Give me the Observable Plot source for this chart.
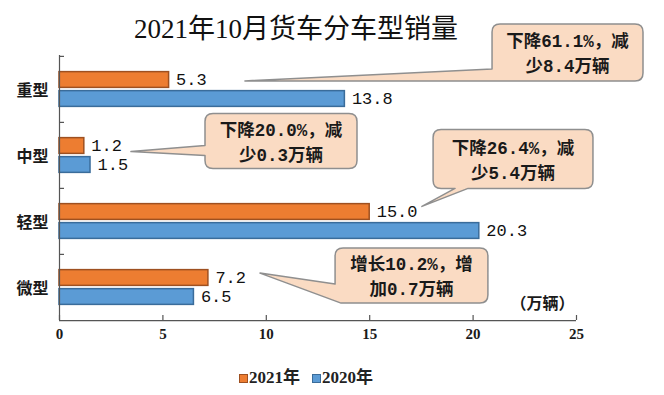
<!DOCTYPE html>
<html><head><meta charset="utf-8">
<script src="https://cdn.jsdelivr.net/npm/d3@7"></script>
<script src="https://cdn.jsdelivr.net/npm/@observablehq/plot@0.6"></script>
<style>
body{margin:0;background:#fff;}
#wrap{position:relative;width:664px;height:395px;overflow:hidden;background:#fff;font-family:"Noto Sans CJK SC",sans-serif;}
#chart{position:absolute;left:0;top:0;}
#title{position:absolute;left:0;width:592px;top:12px;text-align:center;font-family:"Liberation Serif","Noto Sans CJK SC",serif;font-size:27px;line-height:34px;color:#111;}
#legend{position:absolute;left:239px;top:367px;display:flex;align-items:center;font-family:"Liberation Serif","Noto Sans CJK SC",serif;font-size:17px;font-weight:700;color:#222;line-height:22px;}
#legend .item{display:flex;align-items:center;margin-right:12px;}
#legend .sw{width:7px;height:7px;margin-right:1px;}
</style></head>
<body><div id="wrap"><div id="chart"></div><div id="title"></div><div id="legend"></div></div>
<script>
const titleText = "2021年10月货车分车型销量";
const categories = ["重型", "中型", "轻型", "微型"];
const years = ["2021年", "2020年"];
const values2021 = [5.3, 1.2, 15.0, 7.2];
const values2020 = [13.8, 1.5, 20.3, 6.5];
const xTicks = [0, 5, 10, 15, 20, 25];
const unitLabel = "（万辆）";
const calloutTexts = [
  ["下降61.1%，减", "少8.4万辆"],
  ["下降20.0%，减", "少0.3万辆"],
  ["下降26.4%，减", "少5.4万辆"],
  ["增长10.2%，增", "加0.7万辆"]
];

const rows = categories.flatMap((c, i) => [
  {cat: c, year: years[0], value: values2021[i]},
  {cat: c, year: years[1], value: values2020[i]}
]);

// layout (annotation geometry kept out of the data arrays)
const W = 664, H = 360, ML = 59, MR = 88, MT = 55, MB = 40;
const bandH = (H - MT - MB) / categories.length;
const barH = 16, gap = 3, half = bandH / 2;
const colors = ["#ED7D31", "#5B9BD5"];
const borders = ["#9E5020", "#3A6C9A"];

const calloutSpecs = [
  {cat: "重型", box: [20.94, 28.24], top: -65.1, bottom: -8.1, tip: [8.99, -8.1], side: "corner", base: [21.23, -20.1]},
  {cat: "中型", box: [7.06, 14.41], top: -41.4, bottom: 13.6, tip: [3.48, -3.4], side: "left", base: [-9.4, 0.6]},
  {cat: "轻型", box: [18.09, 25.82], top: -91.6, bottom: -32.6, tip: [17.55, -14.6], side: "bottom", base: [19.15, 19.78]},
  {cat: "微型", box: [13.35, 20.74], top: -38.9, bottom: 16.1, tip: [9.72, -13.9], side: "corner", base: [13.64, -2.9]}
];

const calloutMark = (index, scales) => {
  const x = scales.x, y = scales.y;
  const bw = y.bandwidth();
  const g = d3.create("svg:g");
  calloutSpecs.forEach((s, i) => {
    const cy = y(s.cat) + bw / 2;
    const x1 = x(s.box[0]), x2 = x(s.box[1]), y1 = cy + s.top, y2 = cy + s.bottom;
    const tx = x(s.tip[0]), ty = cy + s.tip[1];
    const r = 8;
    let p = `M${x1 + r},${y1}H${x2 - r}Q${x2},${y1} ${x2},${y1 + r}V${y2 - r}Q${x2},${y2} ${x2 - r},${y2}`;
    if (s.side === "bottom") p += `H${x(s.base[1])}L${tx},${ty}L${x(s.base[0])},${y2}`;
    if (s.side === "corner") {
      p += `H${x(s.base[0])}L${tx},${ty}L${x1},${cy + s.base[1]}`;
    } else {
      p += `H${x1 + r}Q${x1},${y2} ${x1},${y2 - r}`;
      if (s.side === "left") p += `V${cy + s.base[1]}L${tx},${ty}L${x1},${cy + s.base[0]}`;
    }
    p += `V${y1 + r}Q${x1},${y1} ${x1 + r},${y1}Z`;
    g.append("path").attr("d", p).attr("fill", "#FADBC3").attr("stroke", "#8f8f8f").attr("stroke-width", 1.5)
      .attr("stroke-linejoin", "round");
    const mx = (x1 + x2) / 2, my = (y1 + y2) / 2 + 1;
    calloutTexts[i].forEach((t, j) => {
      g.append("text").attr("x", mx).attr("y", my + (j - 0.5) * 25).attr("dy", "0.36em")
        .attr("text-anchor", "middle").attr("font-size", 17.5).attr("font-weight", 700)
        .attr("fill", "#1a1a1a").attr("font-family", '"Liberation Mono", "Noto Sans CJK SC", monospace').text(t);
    });
  });
  return g.node();
};

const labelFont = {fontFamily: '"Liberation Mono", monospace', fontSize: 17, fill: "#111"};
const serifBold = {fontFamily: '"Liberation Serif", serif', fontWeight: 700, fill: "#1a1a1a"};

const chart = Plot.plot({
  width: W, height: H,
  marginLeft: ML, marginRight: MR, marginTop: MT, marginBottom: MB,
  style: {fontFamily: '"Noto Sans CJK SC", sans-serif', background: "transparent"},
  x: {domain: [0, 25], axis: null},
  y: {domain: categories, padding: 0, axis: null},
  color: {domain: years, range: colors},
  marks: [
    // bars
    Plot.barX(rows.filter(d => d.year === years[0]), {x: "value", y: "cat", fill: "year", stroke: borders[0], strokeWidth: 1.5,
      insetTop: half - gap / 2 - barH, insetBottom: half + gap / 2}),
    Plot.barX(rows.filter(d => d.year === years[1]), {x: "value", y: "cat", fill: "year", stroke: borders[1], strokeWidth: 1.5,
      insetTop: half + gap / 2, insetBottom: half - gap / 2 - barH}),
    // value labels
    Plot.text(rows.filter(d => d.year === years[0]), {x: "value", y: "cat", text: d => d.value.toFixed(1), dx: 7, dy: -(gap / 2 + barH / 2), textAnchor: "start", ...labelFont}),
    Plot.text(rows.filter(d => d.year === years[1]), {x: "value", y: "cat", text: d => d.value.toFixed(1), dx: 7, dy: gap / 2 + barH / 2, textAnchor: "start", ...labelFont}),
    // y axis line and band boundary ticks
    Plot.ruleX([0], {stroke: "#555", strokeWidth: 1.2}),
    Plot.ruleY(categories, {y: d => d, dy: -half, x1: 0, x2: 0, insetRight: -5, stroke: "#555", strokeWidth: 1.2}),
    // x axis line
    Plot.ruleY(categories.slice(-1), {y: d => d, dy: half, x1: 0, x2: 25, stroke: "#555", strokeWidth: 1.2}),
    // x ticks (inward) and labels
    Plot.ruleX(xTicks, {x: d => d, insetTop: H - MT - MB - 5, stroke: "#555", strokeWidth: 1.2}),
    Plot.text(xTicks, {x: d => d, frameAnchor: "bottom", dy: 18, text: d => String(d), fontSize: 15, ...serifBold}),
    // category labels
    Plot.text(categories, {y: d => d, frameAnchor: "left", dx: -11, dy: 1, textAnchor: "end", text: d => d, fontSize: 16, fontWeight: 700, fill: "#1a1a1a"}),
    // unit label
    Plot.text([unitLabel], {frameAnchor: "bottom-right", dx: -2, dy: -12, textAnchor: "end", text: d => d, fontSize: 16, fontWeight: 700, fill: "#1a1a1a"}),
    calloutMark
  ]
});
document.getElementById("chart").appendChild(chart);
document.getElementById("title").textContent = titleText;

const cs = chart.scale("color");
const legend = document.getElementById("legend");
cs.domain.forEach((d, i) => {
  const item = document.createElement("div");
  item.className = "item";
  const sw = document.createElement("span");
  sw.className = "sw";
  sw.style.background = cs.range[i];
  sw.style.border = "1px solid " + borders[i];
  const t = document.createElement("span");
  t.textContent = d;
  item.appendChild(sw); item.appendChild(t);
  legend.appendChild(item);
});
</script>
</body></html>
